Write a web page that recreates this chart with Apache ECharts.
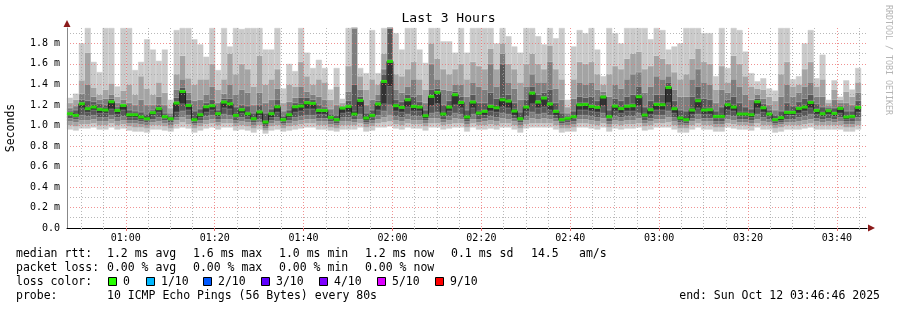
<!DOCTYPE html>
<html><head><meta charset="utf-8">
<script src="https://cdn.jsdelivr.net/npm/echarts@6/dist/echarts.min.js"></script>
<style>html,body{margin:0;padding:0;background:#fff}#c{width:897px;height:310px}</style>
</head><body><div id="c"></div>
<script>
// ---------------- data ----------------
const titleText = 'Last 3 Hours';
const yAxisName = 'Seconds';
const startClock = '00:46:46';     // left edge of the plot
const spanSeconds = 3 * 3600;     // 3 hours
const stepCount = 135;            // 80 s steps
const yMax = 1.95;                // ms, top of plot
const timeTicks = ['01:00', '01:20', '01:40', '02:00', '02:20', '02:40', '03:00', '03:20', '03:40'];

// sorted pings per 80 s step (ms), p1 = fastest ... p10 = slowest
const p1 = [0.96,0.95,0.97,0.97,0.98,0.96,0.96,0.98,0.96,0.97, 0.95,0.94,0.94,0.93,0.96,0.96,0.95,0.94,0.97,0.98, 0.97,0.93,0.95,0.97,0.98,0.96,0.98,0.98,0.95,0.96, 0.95,0.93,0.96,0.92,0.95,0.96,0.94,0.95,0.96,0.97, 0.98,0.98,0.96,0.96,0.95,0.94,0.96,0.96,0.96,0.98, 0.94,0.95,0.98,0.98,0.99,0.97,0.96,0.98,0.97,0.97, 0.95,0.98,0.98,0.96,0.97,0.98,0.98,0.94,0.98,0.96, 0.96,0.97,0.96,0.98,0.98,0.96,0.93,0.97,0.98,0.98, 0.98,0.98,0.96,0.93,0.94,0.94,0.98,0.98,0.97,0.96, 0.98,0.94,0.97,0.96,0.97,0.97,0.98,0.95,0.96,0.98, 0.98,0.98,0.96,0.93,0.93,0.96,0.98,0.96,0.96,0.94, 0.94,0.98,0.97,0.96,0.96,0.95,0.98,0.96,0.96,0.93, 0.94,0.96,0.96,0.96,0.97,0.98,0.96,0.96,0.96,0.96, 0.96,0.94,0.94,0.96,null];
const p2 = [1.00,0.99,1.01,1.01,1.02,1.00,1.00,1.02,1.00,1.01, 0.99,0.98,0.98,0.97,1.00,1.00,0.99,0.97,1.01,1.03, 1.01,0.97,0.99,1.01,1.02,1.00,1.02,1.02,0.99,1.00, 0.99,0.97,1.00,0.95,0.99,1.00,0.97,0.99,1.00,1.01, 1.02,1.02,1.00,1.00,0.98,0.97,1.00,1.00,1.00,1.02, 0.98,0.99,1.02,1.03,1.04,1.01,1.00,1.02,1.01,1.01, 0.99,1.02,1.02,1.00,1.01,1.02,1.02,0.98,1.02,1.00, 1.00,1.01,1.00,1.02,1.02,1.00,0.97,1.01,1.02,1.02, 1.02,1.02,1.00,0.97,0.97,0.98,1.02,1.02,1.01,1.00, 1.02,0.98,1.01,1.00,1.01,1.01,1.02,0.99,1.00,1.02, 1.02,1.03,1.00,0.97,0.97,1.00,1.02,1.00,1.00,0.98, 0.98,1.02,1.01,1.00,1.00,0.99,1.02,1.00,1.00,0.97, 0.98,1.00,1.00,1.00,1.01,1.02,1.00,1.00,1.00,1.00, 1.00,0.98,0.98,1.00,null];
const p3 = [1.04,1.03,1.05,1.05,1.06,1.04,1.04,1.06,1.04,1.05, 1.02,1.02,1.01,1.00,1.03,1.04,1.02,1.00,1.05,1.08, 1.06,1.00,1.02,1.05,1.06,1.03,1.06,1.06,1.02,1.04, 1.03,1.00,1.03,0.97,1.02,1.04,1.00,1.02,1.04,1.05, 1.06,1.06,1.04,1.04,1.01,1.00,1.04,1.04,1.03,1.06, 1.01,1.02,1.06,1.08,1.10,1.05,1.04,1.06,1.05,1.05, 1.02,1.07,1.07,1.03,1.05,1.07,1.06,1.01,1.06,1.03, 1.04,1.05,1.04,1.07,1.06,1.04,1.00,1.05,1.07,1.06, 1.07,1.06,1.04,1.00,1.00,1.01,1.06,1.06,1.05,1.04, 1.07,1.01,1.05,1.04,1.05,1.05,1.07,1.02,1.04,1.06, 1.06,1.08,1.04,1.00,1.00,1.04,1.06,1.04,1.04,1.01, 1.01,1.06,1.05,1.03,1.03,1.02,1.06,1.04,1.03,1.00, 1.01,1.03,1.03,1.04,1.05,1.06,1.04,1.03,1.04,1.03, 1.04,1.01,1.01,1.04,null];
const p4 = [1.07,1.06,1.10,1.09,1.10,1.08,1.08,1.10,1.08,1.09, 1.05,1.05,1.04,1.03,1.06,1.08,1.05,1.03,1.08,1.14, 1.10,1.02,1.05,1.09,1.10,1.06,1.11,1.10,1.05,1.08, 1.06,1.03,1.06,0.99,1.05,1.08,1.02,1.05,1.08,1.09, 1.10,1.10,1.07,1.07,1.04,1.02,1.08,1.08,1.06,1.11, 1.03,1.05,1.10,1.14,1.20,1.09,1.08,1.11,1.09,1.09, 1.05,1.12,1.13,1.06,1.09,1.12,1.11,1.04,1.11,1.06, 1.07,1.09,1.08,1.12,1.11,1.07,1.03,1.09,1.13,1.11, 1.12,1.10,1.07,1.02,1.03,1.04,1.10,1.10,1.09,1.08, 1.12,1.04,1.09,1.08,1.09,1.09,1.12,1.05,1.07,1.10, 1.10,1.14,1.08,1.03,1.02,1.07,1.11,1.07,1.07,1.04, 1.04,1.10,1.09,1.06,1.06,1.05,1.11,1.08,1.06,1.02, 1.03,1.06,1.06,1.08,1.09,1.11,1.07,1.06,1.07,1.06, 1.08,1.04,1.04,1.08,null];
const p5 = [1.10,1.08,1.17,1.13,1.15,1.12,1.12,1.16,1.11,1.15, 1.08,1.08,1.06,1.05,1.10,1.13,1.07,1.05,1.13,1.21, 1.15,1.04,1.08,1.13,1.15,1.09,1.17,1.16,1.08,1.12, 1.09,1.05,1.10,1.01,1.08,1.13,1.04,1.08,1.13,1.14, 1.16,1.16,1.11,1.11,1.06,1.04,1.12,1.13,1.09,1.18, 1.05,1.08,1.15,1.21,1.38,1.14,1.13,1.18,1.14,1.14, 1.07,1.19,1.21,1.09,1.14,1.20,1.17,1.06,1.17,1.10, 1.10,1.14,1.13,1.18,1.17,1.10,1.05,1.14,1.21,1.17, 1.18,1.15,1.10,1.04,1.05,1.07,1.15,1.15,1.14,1.13, 1.19,1.07,1.14,1.12,1.14,1.14,1.19,1.08,1.11,1.15, 1.15,1.22,1.12,1.05,1.04,1.11,1.17,1.11,1.11,1.07, 1.07,1.15,1.14,1.09,1.09,1.08,1.17,1.13,1.09,1.04, 1.05,1.10,1.10,1.12,1.14,1.17,1.11,1.09,1.11,1.09, 1.12,1.06,1.07,1.13,null];
const p6 = [1.12,1.11,1.22,1.18,1.20,1.17,1.17,1.24,1.16,1.20, 1.12,1.12,1.10,1.08,1.13,1.17,1.10,1.08,1.23,1.34, 1.21,1.08,1.12,1.19,1.20,1.12,1.24,1.22,1.12,1.16, 1.13,1.08,1.14,1.05,1.12,1.20,1.07,1.12,1.19,1.21, 1.23,1.22,1.16,1.16,1.09,1.07,1.17,1.20,1.14,1.25, 1.09,1.11,1.22,1.44,1.64,1.21,1.19,1.26,1.20,1.19, 1.11,1.29,1.33,1.13,1.19,1.31,1.24,1.10,1.24,1.14, 1.15,1.20,1.19,1.27,1.25,1.16,1.08,1.19,1.33,1.24, 1.28,1.22,1.15,1.07,1.08,1.10,1.22,1.22,1.20,1.19, 1.29,1.10,1.20,1.18,1.20,1.21,1.30,1.12,1.17,1.22, 1.22,1.38,1.18,1.09,1.07,1.17,1.26,1.17,1.17,1.10, 1.11,1.22,1.20,1.13,1.13,1.12,1.24,1.18,1.12,1.07, 1.09,1.14,1.14,1.18,1.20,1.24,1.16,1.13,1.15,1.13, 1.18,1.10,1.10,1.19,null];
const p7 = [1.14,1.15,1.25,1.24,1.23,1.21,1.20,1.26,1.18,1.21, 1.15,1.14,1.13,1.11,1.15,1.20,1.12,1.09,1.27,1.37, 1.25,1.14,1.16,1.22,1.25,1.15,1.26,1.26,1.18,1.20, 1.19,1.12,1.20,1.12,1.16,1.25,1.09,1.15,1.22,1.27, 1.27,1.25,1.20,1.18,1.11,1.10,1.18,1.24,1.40,1.28, 1.12,1.15,1.24,1.50,1.95,1.25,1.23,1.30,1.28,1.23, 1.15,1.35,1.36,1.20,1.24,1.33,1.28,1.15,1.30,1.22, 1.22,1.32,1.26,1.60,1.30,1.22,1.13,1.25,1.38,1.30, 1.32,1.35,1.22,1.12,1.09,1.14,1.28,1.27,1.28,1.24, 1.30,1.15,1.26,1.24,1.28,1.30,1.38,1.18,1.24,1.30, 1.30,1.42,1.24,1.15,1.14,1.28,1.38,1.26,1.25,1.14, 1.18,1.25,1.28,1.22,1.18,1.16,1.26,1.21,1.15,1.10, 1.14,1.22,1.19,1.23,1.26,1.30,1.21,1.18,1.17,1.17, 1.19,1.14,1.14,1.24,null];
const p8 = [1.17,1.19,1.31,1.40,1.28,1.25,1.26,1.30,1.22,1.25, 1.22,1.20,1.25,1.20,1.20,1.28,1.20,1.12,1.35,1.45, 1.32,1.24,1.25,1.30,1.38,1.22,1.31,1.40,1.30,1.35, 1.32,1.20,1.32,1.22,1.25,1.36,1.14,1.23,1.27,1.38, 1.33,1.30,1.28,1.25,1.16,1.20,1.19,1.33,1.95,1.35, 1.20,1.25,1.30,1.55,1.95,1.35,1.32,1.38,1.45,1.30, 1.22,1.60,1.45,1.35,1.34,1.40,1.40,1.28,1.42,1.38, 1.35,1.60,1.38,1.70,1.42,1.36,1.25,1.38,1.50,1.42, 1.42,1.62,1.36,1.25,1.12,1.26,1.42,1.40,1.42,1.35, 1.33,1.28,1.40,1.36,1.45,1.50,1.52,1.32,1.38,1.48, 1.45,1.48,1.35,1.28,1.28,1.45,1.55,1.42,1.40,1.22, 1.35,1.32,1.45,1.38,1.30,1.25,1.30,1.26,1.20,1.15, 1.28,1.40,1.28,1.32,1.38,1.42,1.28,1.28,1.19,1.25, 1.22,1.22,1.20,1.32,null];
const p9 = [1.22,1.25,1.44,1.71,1.37,1.30,1.35,1.41,1.28,1.34, 1.40,1.30,1.48,1.36,1.30,1.42,1.32,1.17,1.50,1.68, 1.46,1.40,1.45,1.45,1.60,1.35,1.45,1.70,1.50,1.60, 1.55,1.38,1.68,1.40,1.45,1.55,1.22,1.40,1.38,1.62, 1.48,1.40,1.45,1.42,1.25,1.38,1.22,1.58,1.95,1.48, 1.35,1.45,1.40,1.70,1.95,1.50,1.48,1.55,1.62,1.45, 1.35,1.80,1.65,1.55,1.50,1.55,1.60,1.45,1.62,1.58, 1.55,1.75,1.55,1.80,1.60,1.55,1.42,1.60,1.70,1.60, 1.55,1.78,1.55,1.45,1.18,1.45,1.62,1.60,1.62,1.50, 1.40,1.50,1.58,1.55,1.65,1.70,1.72,1.55,1.58,1.68, 1.65,1.60,1.52,1.45,1.50,1.65,1.75,1.62,1.60,1.35, 1.58,1.42,1.68,1.60,1.48,1.38,1.36,1.35,1.28,1.24, 1.50,1.62,1.38,1.40,1.55,1.62,1.38,1.45,1.22,1.35, 1.25,1.33,1.28,1.42,null];
const p10 = [1.27,1.31,1.80,1.95,1.62,1.52,1.95,1.95,1.38,1.95, 1.95,1.54,1.62,1.84,1.74,1.63,1.74,1.25,1.93,1.95, 1.95,1.84,1.79,1.67,1.95,1.54,1.95,1.77,1.95,1.94, 1.95,1.95,1.95,1.74,1.74,1.95,1.36,1.60,1.53,1.95, 1.71,1.56,1.64,1.56,1.35,1.56,1.26,1.95,1.95,1.56, 1.51,1.93,1.51,1.95,1.95,1.90,1.74,1.95,1.95,1.74, 1.61,1.95,1.95,1.82,1.82,1.71,1.95,1.71,1.95,1.95, 1.95,1.95,1.80,1.95,1.87,1.77,1.71,1.95,1.95,1.87, 1.79,1.95,1.85,1.95,1.25,1.77,1.93,1.90,1.95,1.74, 1.48,1.95,1.90,1.80,1.95,1.95,1.95,1.95,1.84,1.95, 1.93,1.74,1.77,1.80,1.95,1.95,1.95,1.90,1.90,1.48, 1.95,1.56,1.95,1.93,1.72,1.51,1.43,1.46,1.36,1.34, 1.95,1.95,1.45,1.48,1.80,1.93,1.46,1.69,1.25,1.44, 1.28,1.44,1.35,1.56,null];
// median rtt per step (ms)
const median = [1.114,1.098,1.211,1.163,1.179,1.156,1.150,1.231,1.146,1.195, 1.104,1.104,1.082,1.065,1.124,1.163,1.085,1.065,1.218,1.331, 1.195,1.056,1.104,1.182,1.192,1.114,1.228,1.211,1.098,1.153, 1.114,1.065,1.131,1.033,1.114,1.182,1.056,1.104,1.182,1.189, 1.221,1.215,1.146,1.146,1.078,1.056,1.169,1.185,1.111,1.244, 1.072,1.098,1.209,1.429,1.624,1.192,1.176,1.250,1.185,1.179, 1.094,1.283,1.322,1.111,1.179,1.299,1.224,1.082,1.228,1.121, 1.137,1.185,1.172,1.250,1.237,1.140,1.065,1.179,1.315,1.228, 1.267,1.209,1.137,1.056,1.069,1.085,1.202,1.205,1.185,1.176, 1.277,1.085,1.188,1.164,1.187,1.192,1.280,1.101,1.153,1.205, 1.202,1.370,1.163,1.072,1.056,1.150,1.241,1.150,1.153,1.088, 1.088,1.202,1.179,1.111,1.111,1.104,1.231,1.172,1.111,1.056, 1.075,1.127,1.127,1.166,1.179,1.224,1.146,1.114,1.143,1.117, 1.166,1.082,1.088,1.176,null];

// legend texts
const rttStats = ['median rtt:', '1.2 ms avg', '1.6 ms max', '1.0 ms min', '1.2 ms now', '0.1 ms sd', '14.5', 'am/s'];
const lossStats = ['packet loss:', '0.00 % avg', '0.00 % max', '0.00 % min', '0.00 % now'];
const lossTitle = 'loss color:';
const lossLevels = ['0', '1/10', '2/10', '3/10', '4/10', '5/10', '9/10'];
const lossColors = ['#26ff00', '#00b8ff', '#0059ff', '#5e00ff', '#7e00ff', '#dd00ff', '#ff0000'];
const probeLabel = 'probe:';
const probeText = '10 ICMP Echo Pings (56 Bytes) every 80s';
const endText = 'end: Sun Oct 12 03:46:46 2025';
const watermark = 'RRDTOOL / TOBI OETIKER';

// ---------------- layout / style ----------------
const MONO = '"DejaVu Sans Mono", monospace';
const G = {left: 67, top: 28, width: 800, height: 200};
const smokeColors = ['#cacaca', '#a4a4a4', '#7e7e7e', '#585858', '#323232', '#585858', '#7e7e7e', '#a4a4a4', '#cacaca'];
const rttX = [16, 107, 193, 279, 365, 451, 531, 579];
const lossX = [16, 107, 193, 279, 365];
const squareX = [108, 146, 203, 261, 319, 377, 435];
const levelX = [123, 161, 218, 276, 334, 392, 450];
const rowY = [254, 268, 282, 296];

// one category per second across the plot (clock strings)
const pad = n => String(n).padStart(2, '0');
const sc = startClock.split(':').map(Number);
const startSec = sc[0] * 3600 + sc[1] * 60 + sc[2];
const seconds = [];
for (let s = 0; s <= spanSeconds; s++) {
  const t = (startSec + s) % 86400;
  seconds.push(pad(Math.floor(t / 3600)) + ':' + pad(Math.floor(t / 60) % 60) + ':' + pad(t % 60));
}
const majorSet = new Set(timeTicks.map(t => t + ':00'));
const isMajor = (i, v) => majorSet.has(v);
const isMinor = (i, v) => v.endsWith(':00') && (+v.slice(3, 5)) % 5 === 0 && !majorSet.has(v);

const steps = Array.from({length: stepCount}, (_, i) => String(i));
const ranks = [p1, p2, p3, p4, p5, p6, p7, p8, p9, p10];

const series = [];
series.push({type: 'bar', stack: 'smoke', xAxisIndex: 1, yAxisIndex: 0, data: p1,
  barCategoryGap: '0%', itemStyle: {color: 'rgba(0,0,0,0)'}, silent: true, z: 2});
for (let j = 1; j < ranks.length; j++) {
  const lo = ranks[j - 1], hi = ranks[j];
  series.push({type: 'bar', stack: 'smoke', xAxisIndex: 1, yAxisIndex: 0,
    data: hi.map((v, i) => (v == null || lo[i] == null) ? null : +(v - lo[i]).toFixed(4)),
    barCategoryGap: '0%', silent: true, z: 2,
    itemStyle: {color: smokeColors[j - 1], borderColor: smokeColors[j - 1], borderWidth: 0.5}});
}
// median: black step line
const medLine = [];
let lastIdx = -1;
median.forEach((v, i) => { if (v != null) { medLine.push([i, v]); lastIdx = i; } });
medLine.push([lastIdx + 1, median[lastIdx]]);
series.push({type: 'line', xAxisIndex: 2, yAxisIndex: 0, data: medLine, step: 'end',
  symbol: 'none', lineStyle: {color: '#202020', width: 1}, silent: true, z: 4});
// median: loss-colored bar (0 loss => green)
series.push({type: 'scatter', xAxisIndex: 1, yAxisIndex: 0, data: median, symbol: 'rect',
  symbolSize: [6, 3], itemStyle: {color: lossColors[0]}, silent: true, z: 5});

// legend graphics
const graphic = [];
const txt = (x, y, text, extra) => Object.assign({type: 'text', x: x, y: y, silent: true,
  style: Object.assign({text: text, fontFamily: MONO, fontSize: 11.5, fill: '#000', verticalAlign: 'middle', align: 'left'}, extra || {})});
rttStats.forEach((s, i) => graphic.push(txt(rttX[i], rowY[0], s)));
lossStats.forEach((s, i) => graphic.push(txt(lossX[i], rowY[1], s)));
graphic.push(txt(16, rowY[2], lossTitle));
lossLevels.forEach((s, i) => {
  graphic.push({type: 'rect', silent: true, shape: {x: squareX[i] + 0.5, y: rowY[2] - 4.5, width: 8, height: 8},
    style: {fill: lossColors[i], stroke: '#000', lineWidth: 1}});
  graphic.push(txt(levelX[i], rowY[2], s));
});
graphic.push(txt(16, rowY[3], probeLabel));
graphic.push(txt(107, rowY[3], probeText));
graphic.push(txt(880, rowY[3], endText, {align: 'right'}));
graphic.push({type: 'text', x: 888, y: 5, rotation: -Math.PI / 2, silent: true,
  style: {text: watermark, fontFamily: MONO, fontSize: 8.3, fill: '#b4b4b4', align: 'left', verticalAlign: 'middle'}});
// axis arrows
graphic.push({type: 'polygon', silent: true, shape: {points: [[G.left, 20], [G.left - 3.5, 27], [G.left + 3.5, 27]]}, style: {fill: '#8b1a1a'}});
graphic.push({type: 'polygon', silent: true, shape: {points: [[875, 228], [868, 224.5], [868, 231.5]]}, style: {fill: '#8b1a1a'}});

const redGrid = 'rgba(235,110,110,0.75)';
const grayGrid = 'rgba(160,160,160,0.75)';

const option = {
  animation: false,
  backgroundColor: '#fff',
  title: {text: titleText, left: 'center', top: 12, padding: 0,
    textStyle: {fontFamily: MONO, fontSize: 13, fontWeight: 'normal', color: '#000'}},
  grid: {left: G.left, top: G.top, width: G.width, height: G.height, containLabel: false, outerBoundsMode: 'none'},
  xAxis: [
    {type: 'category', data: seconds, boundaryGap: false, position: 'bottom', z: 3,
      axisLine: {show: true, lineStyle: {color: '#000', width: 1}},
      axisTick: {show: true, length: 3, interval: isMajor, lineStyle: {color: '#e07070'}},
      axisLabel: {interval: isMajor, formatter: v => v.slice(0, 5), fontFamily: MONO, fontSize: 10, color: '#000', margin: 5},
      splitLine: {show: true, interval: isMajor, lineStyle: {color: redGrid, type: [1, 2], width: 1}}},
    {type: 'category', data: steps, boundaryGap: true, show: false},
    {type: 'value', min: 0, max: stepCount, show: false},
    {type: 'category', data: seconds, boundaryGap: false, position: 'bottom', z: 3,
      axisLine: {show: false}, axisLabel: {show: false},
      axisTick: {show: true, length: 2, interval: isMinor, lineStyle: {color: '#aaa'}},
      splitLine: {show: true, interval: isMinor, lineStyle: {color: grayGrid, type: [1, 2], width: 1}}}
  ],
  yAxis: [
    {type: 'value', min: 0, max: yMax, interval: 0.1, z: 3,
      name: yAxisName, nameLocation: 'middle', nameGap: 50,
      nameTextStyle: {fontFamily: MONO, fontSize: 11.5, color: '#000'},
      axisLine: {show: true, lineStyle: {color: '#888', width: 1}},
      axisTick: {show: false},
      axisLabel: {fontFamily: MONO, fontSize: 10, color: '#000', margin: 7, showMaxLabel: false,
        formatter: function (v) {
          const t = Math.round(v * 10);
          if (Math.abs(v * 10 - t) > 1e-6 || t % 2) return '';
          return t === 0 ? '0.0' : (t / 10).toFixed(1) + ' m';
        }},
      splitLine: {show: true, showMaxLine: false,
        lineStyle: {color: [redGrid, grayGrid], type: [1, 2], width: 1}}}
  ],
  graphic: graphic,
  series: series
};
const chart = echarts.init(document.getElementById('c'), null, {renderer: 'canvas', width: 897, height: 310});
chart.setOption(option);
</script>
</body></html>
